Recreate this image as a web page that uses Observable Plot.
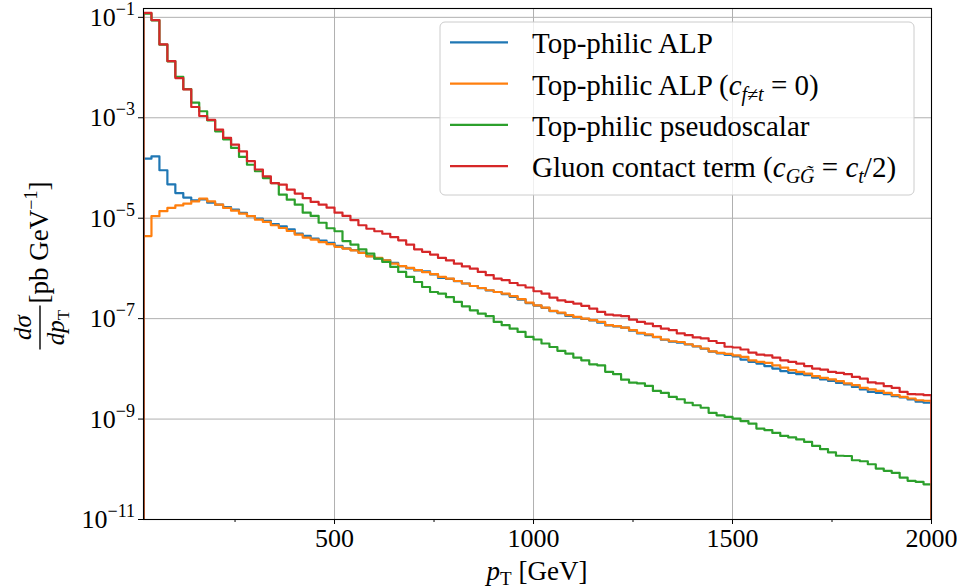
<!DOCTYPE html>
<html><head><meta charset="utf-8">
<script src="https://cdn.jsdelivr.net/npm/d3@7"></script>
<script src="https://cdn.jsdelivr.net/npm/@observablehq/plot@0.6"></script>
<style>
body{margin:0;background:#fff;}
#chart{width:957px;height:588px;}
</style></head><body><div id="chart"></div>
<script>
// Histogram bin edges (GeV): 20 GeV bins from 20 to 2000
const binEdges = d3.range(20, 2001, 20);

// log10 of dσ/dpT [pb/GeV] per bin
const alpLog10 = [
-3.815,-3.77,-4.045,-4.325,-4.50,-4.59,-4.645,-4.625,-4.69,-4.73,
-4.78,-4.83,-4.895,-4.96,-5.01,-5.055,-5.115,-5.16,-5.22,-5.305,
-5.35,-5.405,-5.445,-5.49,-5.55,-5.60,-5.635,-5.685,-5.755,-5.80,
-5.84,-5.89,-5.955,-6.00,-6.04,-6.06,-6.12,-6.19,-6.21,-6.255,
-6.30,-6.35,-6.395,-6.44,-6.47,-6.51,-6.565,-6.62,-6.69,-6.74,
-6.785,-6.85,-6.89,-6.945,-6.975,-7.005,-7.035,-7.08,-7.135,-7.155,
-7.18,-7.24,-7.295,-7.33,-7.37,-7.42,-7.46,-7.48,-7.515,-7.555,
-7.60,-7.655,-7.69,-7.72,-7.75,-7.815,-7.86,-7.895,-7.945,-7.995,
-8.045,-8.08,-8.105,-8.125,-8.175,-8.21,-8.24,-8.28,-8.31,-8.36,
-8.41,-8.46,-8.48,-8.505,-8.545,-8.57,-8.61,-8.655,-8.675];

const alpNoFermLog10 = [
-5.355,-4.96,-4.86,-4.795,-4.745,-4.71,-4.665,-4.61,-4.665,-4.73,
-4.795,-4.85,-4.91,-4.96,-5.03,-5.075,-5.14,-5.195,-5.255,-5.325,
-5.385,-5.425,-5.475,-5.515,-5.57,-5.605,-5.64,-5.69,-5.76,-5.79,
-5.84,-5.905,-5.955,-5.99,-6.035,-6.075,-6.115,-6.17,-6.205,-6.25,
-6.30,-6.35,-6.39,-6.435,-6.47,-6.50,-6.55,-6.61,-6.68,-6.735,
-6.78,-6.845,-6.88,-6.93,-6.965,-7.00,-7.03,-7.065,-7.13,-7.15,
-7.18,-7.23,-7.285,-7.315,-7.365,-7.415,-7.45,-7.465,-7.51,-7.55,
-7.595,-7.65,-7.68,-7.70,-7.73,-7.76,-7.83,-7.86,-7.88,-7.93,
-7.975,-8.025,-8.06,-8.095,-8.145,-8.18,-8.21,-8.245,-8.29,-8.325,
-8.38,-8.41,-8.44,-8.48,-8.525,-8.56,-8.59,-8.625,-8.635];

const pseudoscalarLog10 = [
-0.925,-1.06,-1.545,-1.875,-2.185,-2.43,-2.70,-2.87,-3.05,-3.27,
-3.43,-3.60,-3.78,-3.935,-4.065,-4.20,-4.30,-4.53,-4.63,-4.73,
-4.89,-4.955,-5.09,-5.20,-5.26,-5.455,-5.525,-5.62,-5.705,-5.805,
-5.87,-5.97,-6.07,-6.17,-6.27,-6.37,-6.47,-6.50,-6.57,-6.665,
-6.755,-6.835,-6.90,-6.95,-7.065,-7.13,-7.20,-7.265,-7.365,-7.415,
-7.495,-7.565,-7.64,-7.695,-7.775,-7.83,-7.91,-7.93,-8.06,-8.105,
-8.215,-8.275,-8.29,-8.34,-8.44,-8.48,-8.56,-8.605,-8.675,-8.725,
-8.775,-8.875,-8.925,-8.955,-8.99,-9.04,-9.09,-9.19,-9.22,-9.275,
-9.335,-9.365,-9.405,-9.455,-9.535,-9.60,-9.665,-9.73,-9.735,-9.82,
-9.84,-9.90,-9.985,-10.03,-10.07,-10.165,-10.23,-10.25,-10.30];

const gluonLog10 = [
-0.91,-1.055,-1.54,-1.87,-2.21,-2.435,-2.785,-2.965,-3.04,-3.235,
-3.40,-3.535,-3.67,-3.865,-4.03,-4.165,-4.30,-4.33,-4.43,-4.51,
-4.60,-4.675,-4.73,-4.79,-4.89,-4.955,-5.04,-5.14,-5.21,-5.26,
-5.31,-5.375,-5.44,-5.525,-5.62,-5.67,-5.725,-5.79,-5.84,-5.905,
-5.96,-6.005,-6.07,-6.135,-6.205,-6.235,-6.29,-6.335,-6.38,-6.455,
-6.50,-6.58,-6.635,-6.665,-6.70,-6.745,-6.80,-6.865,-6.92,-6.935,
-6.95,-7.02,-7.065,-7.10,-7.15,-7.20,-7.23,-7.295,-7.33,-7.375,
-7.395,-7.445,-7.485,-7.56,-7.575,-7.615,-7.675,-7.715,-7.73,-7.775,
-7.83,-7.86,-7.895,-7.945,-7.995,-8.015,-8.06,-8.08,-8.105,-8.16,
-8.195,-8.27,-8.29,-8.345,-8.38,-8.46,-8.505,-8.51,-8.525];

const seriesLabels = ["Top-philic ALP", "Top-philic ALP (c_{f≠t} = 0)",
  "Top-philic pseudoscalar", "Gluon contact term (c_{GG̃} = c_t/2)"];
const seriesColors = ["#1f77b4", "#ff7f0e", "#2ca02c", "#d62728"];
const xTicks = [500, 1000, 1500, 2000];
const xMinorTicks = [250, 750, 1250, 1750];
const yTickExponents = [-1, -3, -5, -7, -9, -11];

const SERIF = "'Liberation Serif', 'DejaVu Serif', serif";

function steps(logs) {
  const n = logs.length;
  const pts = [{x: binEdges[0], y: 1e-14}];
  logs.forEach((l, i) => pts.push({x: binEdges[i], y: Math.pow(10, l)}));
  pts.push({x: binEdges[n], y: Math.pow(10, logs[n - 1])});
  pts.push({x: binEdges[n], y: 1e-14});
  return pts;
}

const allSeries = [alpLog10, alpNoFermLog10, pseudoscalarLog10, gluonLog10];
const yTicks = yTickExponents.map(e => Math.pow(10, e));

const plot = Plot.plot({
  width: 957, height: 588,
  marginLeft: 143, marginRight: 26, marginTop: 8, marginBottom: 69,
  style: {background: "#fff", overflow: "visible"},
  x: {domain: [20, 2000]},
  y: {type: "log", domain: [1e-11, 0.15]},
  marks: [
    Plot.gridX(xTicks, {stroke: "#b0b0b0", strokeOpacity: 1, strokeWidth: 1}),
    Plot.gridY(yTicks, {stroke: "#b0b0b0", strokeOpacity: 1, strokeWidth: 1}),
    ...allSeries.map((s, i) => Plot.line(steps(s), {
      x: "x", y: "y", stroke: seriesColors[i], strokeWidth: 2.2,
      curve: "step-after", clip: true
    })),
    Plot.frame({stroke: "#000", strokeWidth: 1.1}),
    Plot.axisX(xTicks, {tickSize: 5, tickPadding: 4, label: null,
      fontSize: 26, fontFamily: SERIF, tickFormat: d => String(d)}),
    Plot.axisX(xMinorTicks, {tickSize: 3, label: null, tickFormat: () => ""}),
    Plot.axisY(yTicks, {tickSize: 5, label: null, tickFormat: () => ""})
  ]
});
document.getElementById("chart").appendChild(plot);

const svg = d3.select(plot);
const ys = plot.scale("y");
const xs = plot.scale("x");

// y tick labels 10^{-n}
yTickExponents.forEach(e => {
  const t = svg.append("text")
    .attr("x", 135).attr("y", ys.apply(Math.pow(10, e)) + 9)
    .attr("text-anchor", "end").attr("font-family", SERIF)
    .attr("font-size", 26).attr("fill", "#000");
  t.append("tspan").text("10");
  t.append("tspan").attr("font-size", 18).attr("dy", -11).text("\u2212" + (-e));
});

// x label
{
  const cx = (xs.apply(20) + xs.apply(2000)) / 2;
  const t = svg.append("text").attr("x", cx).attr("y", 580)
    .attr("text-anchor", "middle").attr("font-family", SERIF)
    .attr("font-size", 27).attr("fill", "#000");
  t.append("tspan").attr("font-style", "italic").text("p");
  t.append("tspan").attr("font-size", 19).attr("dy", 5).text("T");
  t.append("tspan").attr("dy", -5).text(" [GeV]");
}

// y label (rotated)
{
  const cy = (ys.apply(1e-11) + ys.apply(0.15)) / 2;
  const g = svg.append("g").attr("transform", `translate(40,${cy}) rotate(-90)`)
    .attr("font-family", SERIF).attr("fill", "#000");
  const fc = -64;
  g.append("text").attr("x", fc).attr("y", -9).attr("text-anchor", "middle")
    .attr("font-size", 25).attr("font-style", "italic").text("d\u03C3");
  g.append("line").attr("x1", fc - 22).attr("x2", fc + 22).attr("y1", 0).attr("y2", 0)
    .attr("stroke", "#000").attr("stroke-width", 1.4);
  const den = g.append("text").attr("x", fc).attr("y", 24).attr("text-anchor", "middle")
    .attr("font-size", 25);
  den.append("tspan").attr("font-style", "italic").text("dp");
  den.append("tspan").attr("font-size", 17).attr("dy", 5).text("T");
  const br = g.append("text").attr("x", -40).attr("y", 8).attr("text-anchor", "start")
    .attr("font-size", 27);
  br.append("tspan").text("[pb GeV");
  br.append("tspan").attr("font-size", 18).attr("dy", -11).text("\u22121");
  br.append("tspan").attr("dy", 11).text("]");
}

// legend
{
  const g = svg.append("g").attr("font-family", SERIF).attr("text-anchor", "start");
  g.append("rect").attr("x", 440).attr("y", 22).attr("width", 474).attr("height", 173)
    .attr("rx", 5).attr("fill", "#fff").attr("fill-opacity", 0.8)
    .attr("stroke", "#cccccc").attr("stroke-width", 1);
  const rows = [42.3, 83.6, 124.9, 166.2];
  rows.forEach((ry, i) => {
    g.append("line").attr("x1", 450).attr("x2", 508).attr("y1", ry).attr("y2", ry)
      .attr("stroke", seriesColors[i]).attr("stroke-width", 2.2);
  });
  const mk = (i) => g.append("text").attr("x", 532).attr("y", rows[i] + 11)
    .attr("text-anchor", "start").attr("font-size", 29).attr("fill", "#000");
  mk(0).text(seriesLabels[0]);
  {
    const t = mk(1);
    t.append("tspan").text("Top-philic ALP (");
    t.append("tspan").attr("font-style", "italic").text("c");
    t.append("tspan").attr("font-style", "italic").attr("font-size", 20).attr("dy", 6).text("f\u2260t");
    t.append("tspan").attr("dy", -6).text(" = 0)");
  }
  mk(2).text(seriesLabels[2]);
  {
    const t = mk(3);
    t.append("tspan").text("Gluon contact term (");
    t.append("tspan").attr("font-style", "italic").text("c");
    t.append("tspan").attr("font-style", "italic").attr("font-size", 20).attr("dy", 6).text("GG\u0303");
    t.append("tspan").attr("dy", -6).text(" = ");
    t.append("tspan").attr("font-style", "italic").text("c");
    t.append("tspan").attr("font-style", "italic").attr("font-size", 20).attr("dy", 6).text("t");
    t.append("tspan").attr("dy", -6).text("/2)");
  }
}
</script></body></html>
